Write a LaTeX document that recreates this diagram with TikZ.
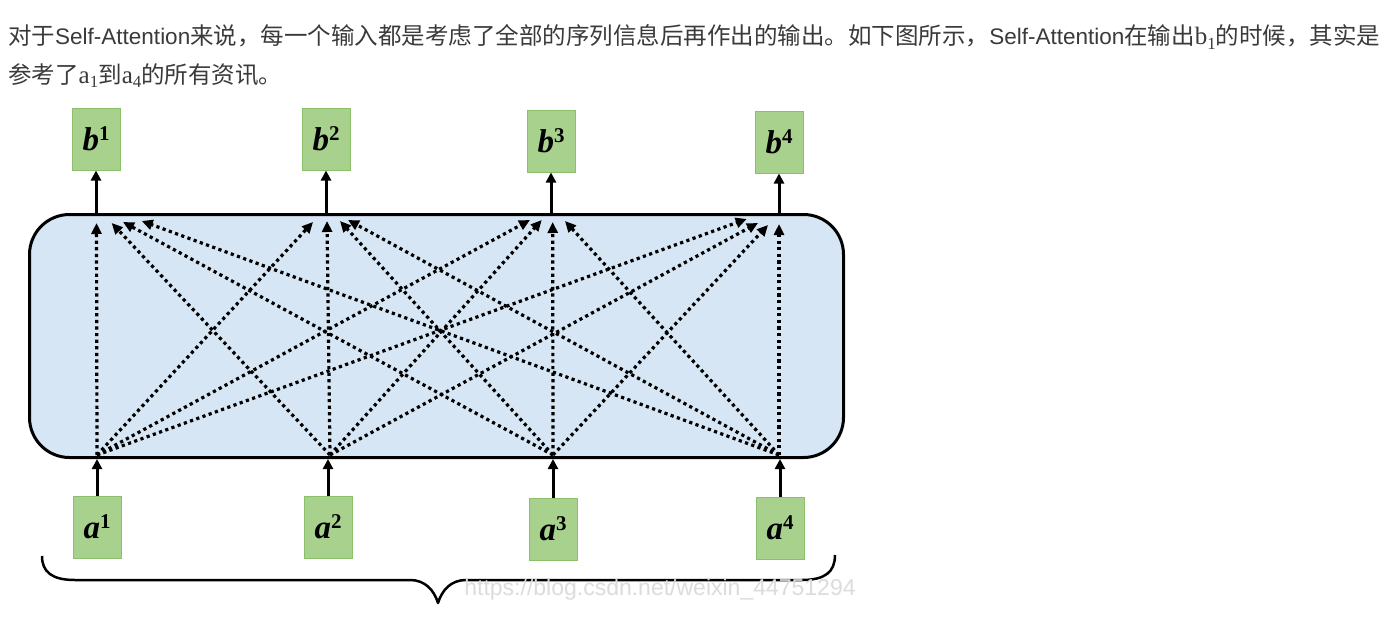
\documentclass[tikz,border=0pt]{standalone}
\usepackage{fontspec}
\usetikzlibrary{arrows.meta}
\newfontfamily\cjk{Noto Sans CJK SC}
\newfontfamily\lat{Liberation Sans}
\newfontfamily\lblfont{Liberation Serif}
\definecolor{txt}{HTML}{3A3A3A}
\definecolor{boxfill}{HTML}{A9D18E}
\definecolor{boxdraw}{HTML}{8CBF6A}
\definecolor{safill}{HTML}{D7E6F4}
\definecolor{wmark}{HTML}{DCDCDC}
\newcommand{\vlab}[2]{{\itshape #1}\raisebox{10pt}{\fontsize{21}{21}\selectfont\upshape #2}}
\newcommand{\sublab}[2]{{\lblfont\fontsize{25}{28}\selectfont #1\raisebox{-5pt}{\fontsize{17}{17}\selectfont #2}}}
\newcommand{\SA}{{\lat\fontsize{22.5}{26}\selectfont Self-Attention}}
\begin{document}
\begin{tikzpicture}[x=1pt,y=-1pt,
  vecbox/.style={draw=boxdraw, line width=1pt, fill=boxfill, minimum width=48pt,
    minimum height=62pt, inner sep=0pt,
    font=\lblfont\fontsize{33}{34}\selectfont\bfseries},
  solidarrow/.style={line width=3pt, -{Triangle[length=10pt,width=10pt]}},
  dotarrow/.style={line width=3.2pt, dash pattern=on 3.2pt off 3.4pt,
    -{Triangle[length=11pt,width=10pt]}},
  textline/.style={anchor=base west, inner sep=0pt, text=txt,
    font=\cjk\fontsize{23.5}{28}\selectfont},
]
\useasboundingbox (0,0) rectangle (1400,618);
\fill[white] (0,0) rectangle (1400,618);

% text
\node[textline] (t1) at (8,45) {对于\SA 来说，每一个输入都是考虑了全部的序列信息后再作出的输出。如下图所示，\SA 在输出\sublab{b}{1}的时候，其实是};
\node[textline] (t2) at (8,83) {参考了\sublab{a}{1}到\sublab{a}{4}的所有资讯。};

% big box
\node[draw, line width=3pt, fill=safill, rounded corners=40pt,
      minimum width=814pt, minimum height=243pt, inner sep=0pt] (sa) at (436.5,336) {};

% output boxes
\node[vecbox] (b1) at (96,139) {\vlab{b}{1}};
\node[vecbox] (b2) at (326,139) {\vlab{b}{2}};
\node[vecbox] (b3) at (551,141) {\vlab{b}{3}};
\node[vecbox] (b4) at (779,142) {\vlab{b}{4}};
% input boxes
\node[vecbox] (a1) at (97,527) {\vlab{a}{1}};
\node[vecbox] (a2) at (328,527) {\vlab{a}{2}};
\node[vecbox] (a3) at (553,529) {\vlab{a}{3}};
\node[vecbox] (a4) at (780,528) {\vlab{a}{4}};

% solid arrows
\foreach \i in {1,2,3,4}{
  \draw[solidarrow] (sa.north -| b\i.south) -- (b\i.south);
  \draw[solidarrow] (a\i.north) -- (a\i.north |- sa.south);
}

% start points of attention lines
\coordinate (s1) at (97,455);
\coordinate (s2) at (330,455);
\coordinate (s3) at (553,455);
\coordinate (s4) at (779,455);
% tips at outputs
\coordinate (e11) at (96.5,223);  \coordinate (e21) at (111.7,223);
\coordinate (e31) at (123,222);   \coordinate (e41) at (141.7,221);
\coordinate (e12) at (313,222);   \coordinate (e22) at (327,221);
\coordinate (e32) at (340,221);   \coordinate (e42) at (348,220);
\coordinate (e13) at (530,220);   \coordinate (e23) at (541.7,220);
\coordinate (e33) at (552.7,222); \coordinate (e43) at (565,221);
\coordinate (e14) at (746.7,219); \coordinate (e24) at (758,223);
\coordinate (e34) at (768,225);   \coordinate (e44) at (779,224);
\foreach \i in {1,2,3,4}{
  \foreach \j in {1,2,3,4}{
    \draw[dotarrow] (s\i) -- (e\i\j);
  }
}

% brace
\draw[line width=2.5pt, line join=round] (42,556) .. controls (42,572) and (52,580) .. (75,580)
  -- (410,580) .. controls (425,580) and (434,590) .. (438,603)
  .. controls (442,590) and (451,580) .. (466,580)
  -- (802,580) .. controls (825,580) and (835,572) .. (835,555);

% watermark
\node[text=wmark, inner sep=0pt, font=\lat\fontsize{23}{26}\selectfont] (wm) at (660,590) {https://blog.csdn.net/weixin\_44751294};
\end{tikzpicture}
\end{document}
